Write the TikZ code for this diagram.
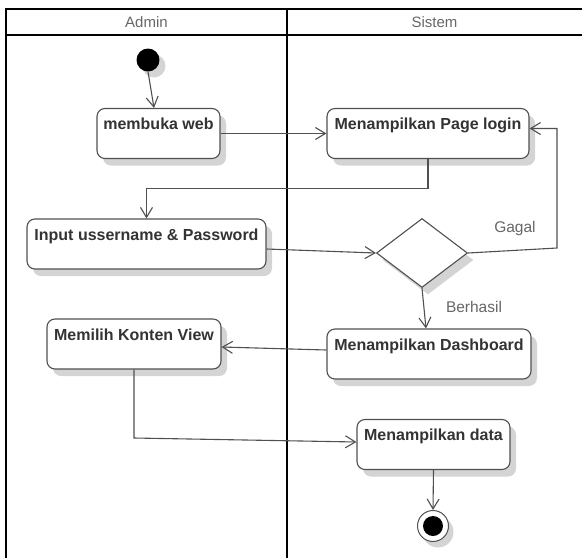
\documentclass[tikz,border=0pt]{standalone}
\usepackage{fontspec}
\setmainfont{Liberation Sans}
\usetikzlibrary{arrows.meta,shapes.geometric,shadows}
\definecolor{edgegray}{HTML}{505050}
\definecolor{txtgray}{HTML}{333333}
\definecolor{lblgray}{HTML}{666666}
\definecolor{shadowgray}{HTML}{D4D4D4}
\tikzset{
  lane/.style={line width=2pt, draw=black},
  lanetitle/.style={font=\fontsize{15pt}{17pt}\selectfont, text=lblgray},
  softshadow/.style={drop shadow={shadow xshift=6pt, shadow yshift=-7pt, fill=shadowgray, opacity=1}},
  act/.style={draw=edgegray, line width=1.1pt, rounded corners=8pt, fill=white,
    font=\bfseries\fontsize{16pt}{18pt}\selectfont, text=txtgray,
    inner xsep=0pt, inner ysep=3pt, text height=18pt, text depth=26pt, softshadow},
  flow/.style={draw=edgegray, line width=1.1pt,
    -{Straight Barb[length=10pt,width=12pt,line width=1.1pt]}},
  guard/.style={font=\fontsize{15.5pt}{17pt}\selectfont, text=lblgray},
}
\begin{document}
\begin{tikzpicture}[x=1pt,y=-1pt]
\useasboundingbox (0,0) rectangle (582,558);

% swimlane frame
\draw[lane] (6,558) -- (6,9) -- (582,9);
\draw[lane] (6,35) -- (582,35);
\draw[lane] (287,9) -- (287,558);
\node[lanetitle] (admin) at (146.5,22) {Admin};
\node[lanetitle] (sistem) at (434.5,22) {Sistem};

% initial and final states
\node[circle, fill=black, minimum size=23pt, inner sep=0pt,
  drop shadow={shadow xshift=6pt, shadow yshift=-6pt, fill=shadowgray, opacity=1}] (start) at (148,60) {};
\node[circle, draw=edgegray, line width=1pt, fill=white, minimum size=31pt, inner sep=0pt,
  drop shadow={shadow xshift=5pt, shadow yshift=-6pt, fill=shadowgray, opacity=1}] (end) at (433,526) {};
\node[circle, fill=black, minimum size=20pt, inner sep=0pt] (endin) at (end) {};

% activities
\node[act, minimum width=123pt] (web) at (158.5,133.5) {membuka web};
\node[act, minimum width=202pt] (login) at (428,133.5) {Menampilkan Page login};
\node[act, minimum width=239pt] (inp) at (146.5,244) {Input ussername \& Password};
\node[diamond, draw=edgegray, line width=1.1pt, fill=white, minimum width=91pt,
  minimum height=69pt, inner sep=0pt, softshadow] (dia) at (422,253) {};
\node[act, minimum width=174pt] (mem) at (134,344) {Memilih Konten View};
\node[act, minimum width=204pt] (dash) at (429,354) {Menampilkan Dashboard};
\node[act, minimum width=153pt] (data) at (433.5,444.5) {Menampilkan data};

% guards
\node[guard] (gagal) at (515,228) {Gagal};
\node[guard] (berhasil) at (474,307) {Berhasil};

% corner points of routed connectors
\coordinate (gc) at (557,248);
\coordinate (mc) at (134,438);

% control flow
\draw[flow] (start.south) -- ([xshift=-4.5pt]web.north);
\draw[flow] (web.east) -- (login.west);
\draw[flow] (login.south) -- ++(0,29) -| (inp.north);
\draw[flow] ([yshift=-5pt]inp.east) -- (dia.west);
\draw[flow] (dia.east) -- (gc) |- ([yshift=5pt]login.east);
\draw[flow] (dia.south) -- ([xshift=-3pt]dash.north);
\draw[flow] ([yshift=4pt]dash.west) -- ([yshift=-3pt]mem.east);
\draw[flow] (mem.south) -- (mc) -- ([yshift=2.5pt]data.west);
\draw[flow] (data.south) -- (end.north);
\end{tikzpicture}
\end{document}
